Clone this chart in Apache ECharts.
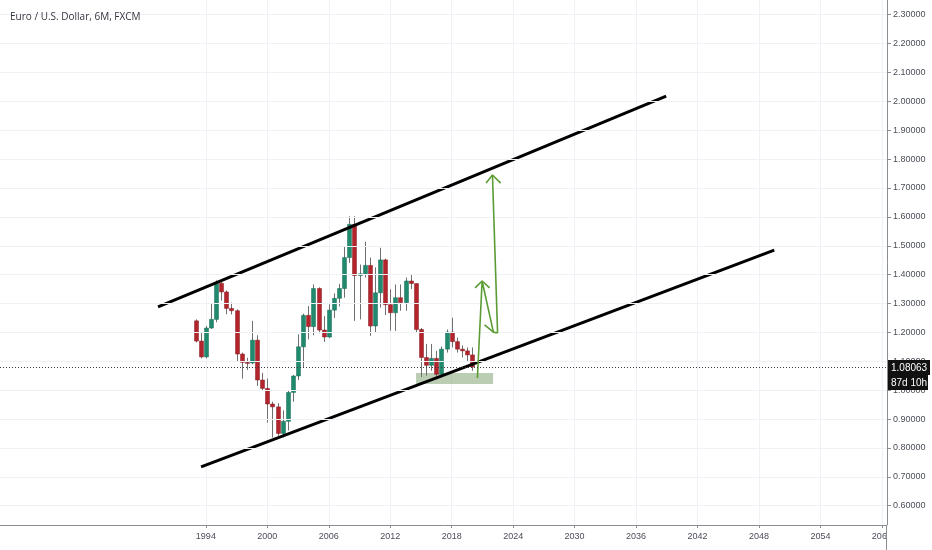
<!DOCTYPE html>
<html><head><meta charset="utf-8">
<script src="https://cdn.jsdelivr.net/npm/echarts@6/dist/echarts.min.js"></script>
<style>html,body{margin:0;padding:0;background:#fff}#c{width:932px;height:550px}</style>
</head><body><div id="c"></div>
<script>
// half-year candle start (year)
const periods = [1993.0,1993.5,1994.0,1994.5,1995.0,1995.5,1996.0,1996.5,1997.0,1997.5,
  1998.0,1998.5,1999.0,1999.5,2000.0,2000.5,2001.0,2001.5,2002.0,2002.5,
  2003.0,2003.5,2004.0,2004.5,2005.0,2005.5,2006.0,2006.5,2007.0,2007.5,
  2008.0,2008.5,2009.0,2009.5,2010.0,2010.5,2011.0,2011.5,2012.0,2012.5,
  2013.0,2013.5,2014.0,2014.5,2015.0,2015.5,2016.0,2016.5,2017.0,2017.5,
  2018.0,2018.5,2019.0,2019.5,2020.0];
const opens  = [1.240,1.170,1.115,1.215,1.245,1.370,1.340,1.283,1.275,1.125,
  1.096,1.094,1.173,1.035,1.006,0.952,0.942,0.850,0.892,0.992,
  1.049,1.150,1.259,1.220,1.352,1.208,1.184,1.277,1.318,1.352,
  1.459,1.574,1.397,1.403,1.432,1.222,1.337,1.451,1.296,1.268,
  1.320,1.303,1.378,1.369,1.210,1.113,1.086,1.110,1.055,1.142,
  1.201,1.168,1.142,1.136,1.122];
const closes = [1.170,1.115,1.215,1.245,1.370,1.340,1.283,1.275,1.125,1.096,
  1.094,1.173,1.035,1.006,0.952,0.942,0.850,0.892,0.992,1.049,
  1.150,1.259,1.220,1.352,1.208,1.184,1.277,1.318,1.352,1.459,
  1.574,1.397,1.403,1.432,1.222,1.337,1.451,1.296,1.268,1.320,
  1.303,1.378,1.369,1.210,1.113,1.086,1.110,1.055,1.142,1.201,
  1.168,1.142,1.136,1.122,1.08063];
const lows   = [1.165,1.110,1.110,1.212,1.235,1.310,1.263,1.262,1.100,1.040,
  1.070,1.090,1.015,0.998,0.888,0.836,0.842,0.836,0.860,0.960,
  1.035,1.080,1.176,1.190,1.197,1.167,1.180,1.250,1.290,1.320,
  1.440,1.240,1.245,1.390,1.188,1.200,1.286,1.260,1.206,1.205,
  1.275,1.275,1.350,1.200,1.045,1.050,1.067,1.038,1.044,1.130,
  1.148,1.130,1.113,1.101,1.067];
const highs  = [1.245,1.200,1.222,1.300,1.380,1.375,1.345,1.303,1.280,1.130,
  1.112,1.240,1.190,1.060,1.040,0.960,0.955,0.930,0.998,1.052,
  1.193,1.265,1.291,1.366,1.356,1.256,1.297,1.335,1.368,1.499,
  1.602,1.602,1.435,1.514,1.459,1.425,1.493,1.455,1.349,1.366,
  1.366,1.390,1.400,1.370,1.215,1.160,1.160,1.136,1.151,1.210,
  1.251,1.182,1.155,1.148,1.148];

const xTicks = [1994,2000,2006,2012,2018,2024,2030,2036,2042,2048,2054,2060];
const yTicks = [0.6,0.7,0.8,0.9,1.0,1.1,1.2,1.3,1.4,1.5,1.6,1.7,1.8,1.9,2.0,2.1,2.2,2.3];
const lastPrice = 1.08063;
const countdown = '87d 10h';
const titleText = 'Euro / U.S. Dollar, 6M, FXCM';

// drawings (year, price)
const channelUpper = [[1989.33,1.288],[2038.94,2.0185]];
const channelLower = [[1993.53,0.734],[2049.49,1.485]];
const supportBox = [[2014.52,1.0594],[2022.04,1.0213]];
const arrowPath1 = [[2020.51,1.042],[2020.97,1.378],[2022.07,1.201]];
const arrowHead1 = [[2020.29,1.354],[2020.97,1.378],[2021.70,1.354]];
const arrowHead3 = [[2021.21,1.226],[2022.07,1.201],[2022.48,1.198]];
const arrowPath2 = [[2022.48,1.198],[2021.98,1.745]];
const arrowHead2 = [[2021.36,1.717],[2021.98,1.745],[2022.78,1.717]];

const UP = '#1f8a6e', UPB = '#176a55', DN = '#b3252c', DNB = '#861a20', WICK = '#707070';
const candleData = periods.map((p,i)=>[p, opens[i], closes[i], lows[i], highs[i]]);

const chart = echarts.init(document.getElementById('c'), null, {renderer:'canvas'});
const GREEN = '#5b9c35';
function seg(data, color, width, z){
  return {type:'line', data, symbol:'none', silent:true, animation:false, z:z||3,
    lineStyle:{color, width}};
}
chart.setOption({
  backgroundColor:'#ffffff',
  animation:false,
  textStyle:{fontFamily:'Liberation Sans, Arial, sans-serif'},
  title:{text:titleText, left:5, top:7, textStyle:{fontSize:10, fontWeight:'normal', color:'#33363d', fontFamily:'Open Sans'}},
  grid:{left:0, right:45, top:0, bottom:25, containLabel:false},
  xAxis:{type:'value', min:1973.9, max:2060.5,
    axisLine:{show:true, lineStyle:{color:'#8a8d94', width:1}},
    axisTick:{show:true, length:3, customValues:xTicks, lineStyle:{color:'#8a8d94'}},
    axisLabel:{customValues:xTicks, formatter:v=>String(Math.round(v)), fontSize:9, color:'#4a4e57', margin:7},
    splitLine:{show:true, lineStyle:{color:'#eef1f5', width:1}}
  },
  yAxis:{type:'value', position:'right', min:0.533, max:2.351, z:5,
    axisLine:{show:true, lineStyle:{color:'#8a8d94', width:1}},
    axisTick:{show:true, length:4, customValues:yTicks, lineStyle:{color:'#8a8d94'}},
    axisLabel:{customValues:yTicks, formatter:v=>v.toFixed(5), fontSize:9, color:'#4a4e57', margin:6},
    splitLine:{show:true, lineStyle:{color:'#eef1f5', width:1}}
  },
  graphic:[
    {type:'rect', z:3, silent:true, shape:{x:887, y:0, width:45, height:550}, style:{fill:'#ffffff'}},
    {type:'line', z:4, silent:true, shape:{x1:886.5, y1:525, x2:886.5, y2:550}, style:{stroke:'#8a8d94', lineWidth:1}}
  ],
  series:[
    {type:'custom', name:'EURUSD', data:candleData, clip:true, z:2,
      encode:{x:0, y:[1,2,3,4]},
      renderItem:(params, api)=>{
        const x=api.value(0), o=api.value(1), c=api.value(2), l=api.value(3), h=api.value(4);
        const pO=api.coord([x,o]), pC=api.coord([x,c]), pL=api.coord([x,l]), pH=api.coord([x,h]);
        const cx=Math.round(pO[0])+0.5, w=4;
        const up=c>=o;
        const top=Math.min(pO[1],pC[1]), bot=Math.max(pO[1],pC[1]);
        return {type:'group', children:[
          {type:'line', shape:{x1:cx,y1:pH[1],x2:cx,y2:pL[1]}, style:{stroke:WICK, lineWidth:1}},
          {type:'rect', shape:{x:cx-w/2, y:top, width:w, height:Math.max(bot-top,1)},
            style:{fill:up?UP:DN, stroke:up?UPB:DNB, lineWidth:0.5}}
        ]};
      }
    },
    Object.assign(seg(channelUpper,'#000000',3,4), {
      markLine:{silent:true, symbol:['none','none'], animation:false, z:10,
        lineStyle:{type:[1,2], color:'#3a3a3a', width:1},
        label:{show:true, position:'end', distance:1, offset:[0,8],
          formatter:'{a|'+lastPrice.toFixed(5)+'}\n{b|'+countdown+'}',
          rich:{
            a:{backgroundColor:'#111111', color:'#ffffff', fontSize:10, padding:[3,3,2,3], lineHeight:15, width:36},
            b:{backgroundColor:'#111111', color:'#ffffff', fontSize:10, padding:[3,3,2,3], lineHeight:15, width:34}
          }},
        data:[{yAxis:lastPrice}]
      }
    }),
    seg(channelLower,'#000000',3,4),
    {type:'line', data:[], silent:true,
      markArea:{silent:true, itemStyle:{color:'rgba(120,158,104,0.5)'},
        data:[[{coord:supportBox[0]},{coord:supportBox[1]}]]}},
    seg(arrowPath1,GREEN,1.6,5),
    seg(arrowHead1,GREEN,1.6,5),
    seg(arrowHead3,GREEN,1.6,5),
    seg(arrowPath2,GREEN,1.6,5),
    seg(arrowHead2,GREEN,1.6,5)
  ]
});
</script></body></html>
